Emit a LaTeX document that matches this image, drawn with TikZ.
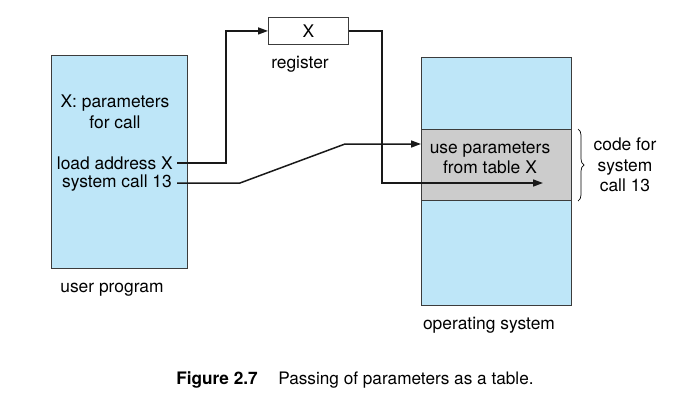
\documentclass[tikz,border=0pt]{standalone}
\usepackage{fontspec}
\setmainfont{TeX Gyre Heros}
\usetikzlibrary{arrows.meta,decorations.pathreplacing}
\definecolor{lblue}{RGB}{190,230,248}
\definecolor{cgray}{RGB}{204,204,204}
\definecolor{edge}{RGB}{60,60,60}
\begin{document}
\begin{tikzpicture}[x=1pt,y=-1pt,
  box/.style={draw=edge,line width=0.9pt,inner sep=0pt,anchor=north west},
  lbl/.style={inner sep=0pt,font=\fontsize{17.4}{20.5}\selectfont,align=center},
  conn/.style={line width=1.5pt,draw=black!90},
  tip/.style={-{Triangle[length=10pt,width=7pt]}}]
\useasboundingbox (0,0) rectangle (692,407);
% boxes
\node[box,fill=lblue,minimum width=136pt,minimum height=213pt] (user) at (51,55) {};
\node[box,fill=white,minimum width=80pt,minimum height=27pt] (reg) at (268,17) {};
\node[box,fill=lblue,minimum width=150pt,minimum height=248pt] (os) at (421,57) {};
\node[box,fill=cgray,minimum width=150pt,minimum height=71pt] (code) at (421,129) {};
% texts
\node[lbl] (x) at (reg.center) {X};
\node[lbl] (reglbl) at (300,64) {register};
\node[lbl] (params) at (115,112) {X: parameters\\for call};
\node[lbl,anchor=east] (load) at (173,163) {load address X};
\node[lbl,anchor=east] (sys) at (172,183) {system call 13};
\node[lbl] (userlbl) at (112,290) {user program};
\node[lbl] (oslbl) at (489,325) {operating system};
\node[lbl] (use) at (490,158) {use parameters\\from table X};
\node[lbl] (codelbl) at (625,165) {code for\\system\\call 13};
\node[inner sep=0pt,font=\fontsize{17.2}{20}\selectfont] (cap) at (355,380) {\textbf{Figure 2.7}\hspace{1.2em}Passing of parameters as a table.};
% connectors
\coordinate (k1) at (382,183);
\coordinate (t1) at (543,183);
\coordinate (d1) at (240,183);
\coordinate (d2) at (345,144);
\coordinate (t2) at (421,144);
\coordinate (u1) at (226,163);
\draw[conn,tip] ([xshift=4pt]load.east) -- (u1) |- (reg.west);
\draw[conn,tip] (reg.east) -| (k1) -- (t1);
\draw[conn,tip] ([xshift=5pt]sys.east) -- (d1) -- (d2) -- (t2);
% brace
\draw[line width=0.7pt,decorate,decoration={brace,amplitude=6pt}] (578,129) -- (578,201);
\end{tikzpicture}
\end{document}
